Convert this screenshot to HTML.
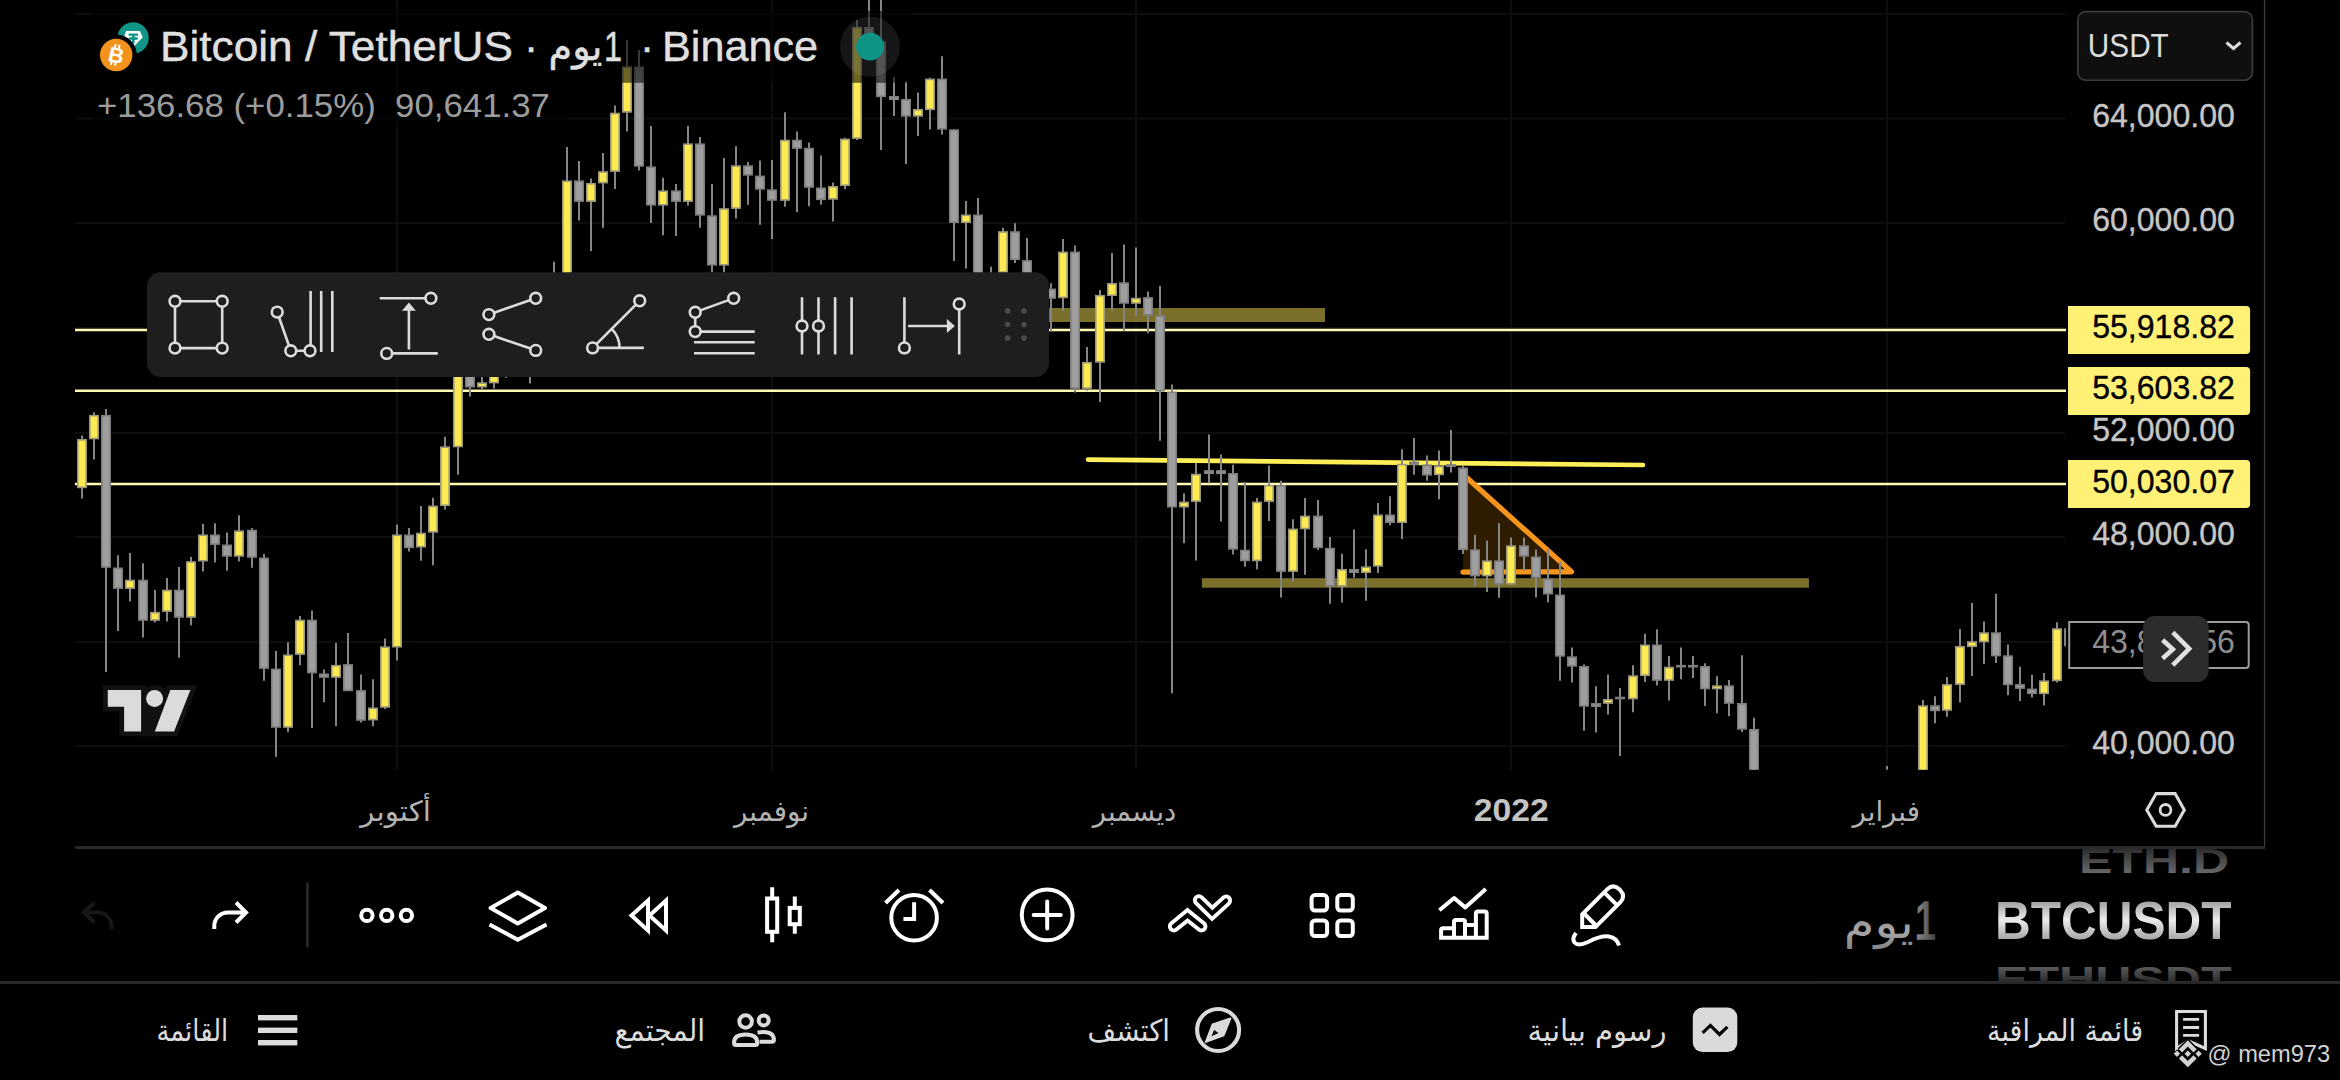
<!DOCTYPE html>
<html lang="ar">
<head>
<meta charset="utf-8">
<title>Bitcoin / TetherUS</title>
<style>
html,body{margin:0;padding:0;background:#000;}
body{width:2340px;height:1080px;overflow:hidden;position:relative;}
svg{position:absolute;left:0;top:0;display:block}
text{font-family:"Liberation Sans","DejaVu Sans",sans-serif;}
.ar{font-family:"DejaVu Sans","Liberation Sans",sans-serif;}
.y{fill:#fdea50;stroke:#9d987c}
.g{fill:#9e9e9e;stroke:#7e7e7e}
.grid line{stroke:#0d0e0e;stroke-width:2}
.ax{fill:#c6c6c6;font-size:32.5px;stroke:#c6c6c6;stroke-width:0.35}
.lab{fill:#000;font-size:32.5px;stroke:#000;stroke-width:0.35}
.ic{fill:none;stroke:#dcdcdc;stroke-width:2.6;stroke-linecap:butt}
.tb{fill:none;stroke:#fff;stroke-width:4;stroke-linejoin:miter}
.nav{fill:#dcdcdc;font-size:30px}
</style>
</head>
<body>
<svg width="2340" height="1080" viewBox="0 0 2340 1080">
<defs>
<clipPath id="plot"><rect x="75" y="0" width="1991" height="769.800"/></clipPath>
<linearGradient id="wheel" x1="0" y1="0" x2="0" y2="1">
<stop offset="0" stop-color="#000" stop-opacity="1"/><stop offset="0.38" stop-color="#000" stop-opacity="0.25"/><stop offset="0.52" stop-color="#000" stop-opacity="0"/><stop offset="0.66" stop-color="#000" stop-opacity="0.25"/><stop offset="1" stop-color="#000" stop-opacity="1"/>
</linearGradient>
<clipPath id="wheelclip"><rect x="1820" y="849" width="445" height="132"/></clipPath>
<linearGradient id="gTop" gradientUnits="userSpaceOnUse" x1="0" y1="834" x2="0" y2="874"><stop offset="0" stop-color="#2a2a2a"/><stop offset="1" stop-color="#6a6a6a"/></linearGradient>
<linearGradient id="gMid" gradientUnits="userSpaceOnUse" x1="0" y1="900" x2="0" y2="940"><stop offset="0" stop-color="#9a9a9a"/><stop offset="0.5" stop-color="#ececec"/><stop offset="1" stop-color="#a4a4a4"/></linearGradient>
<linearGradient id="gMid2" gradientUnits="userSpaceOnUse" x1="0" y1="905" x2="0" y2="955"><stop offset="0" stop-color="#6e6e6e"/><stop offset="0.5" stop-color="#a8a8a8"/><stop offset="1" stop-color="#7a7a7a"/></linearGradient>
<linearGradient id="gOne" gradientUnits="userSpaceOnUse" x1="1916" y1="0" x2="1937" y2="0"><stop offset="0" stop-color="#8a8a8a"/><stop offset="1" stop-color="#3c3c3c"/></linearGradient>
<linearGradient id="gBot" gradientUnits="userSpaceOnUse" x1="0" y1="952" x2="0" y2="985"><stop offset="0" stop-color="#5e5e5e"/><stop offset="1" stop-color="#1a1a1a"/></linearGradient>
</defs>
<rect width="2340" height="1080" fill="#000"/>
<!-- grid -->
<g class="grid">
<line x1="75" x2="2065.5" y1="14" y2="14"/><line x1="75" x2="2065.5" y1="118.500" y2="118.500"/><line x1="75" x2="2065.5" y1="223" y2="223"/><line x1="75" x2="2065.5" y1="328" y2="328"/><line x1="75" x2="2065.5" y1="433" y2="433"/><line x1="75" x2="2065.5" y1="537" y2="537"/><line x1="75" x2="2065.5" y1="642" y2="642"/><line x1="75" x2="2065.5" y1="746" y2="746"/>
<line x1="397" x2="397" y1="0" y2="769.8"/><line x1="772" x2="772" y1="0" y2="769.8"/><line x1="1136" x2="1136" y1="0" y2="769.8"/><line x1="1511" x2="1511" y1="0" y2="769.8"/><line x1="1887" x2="1887" y1="0" y2="769.8"/>
</g>
<g clip-path="url(#plot)">
<!-- drawings behind candles -->
<rect x="900" y="308" width="425" height="14" fill="#7a702b"/>
<rect x="1201.900" y="578.200" width="607" height="9.500" fill="#7a702c"/>
<line x1="1088" y1="459.6" x2="1643" y2="465" stroke="#ffee58" stroke-width="4.6" stroke-linecap="round"/>
<g stroke="#fffbb4" stroke-width="2.400"><line x1="75" x2="2066" y1="330" y2="330"/><line x1="75" x2="2066" y1="390.8" y2="390.8"/><line x1="75" x2="2066" y1="484" y2="484"/></g>
<path d="M1465.500 476.500L1571.500 571.800L1463 572.100" fill="#2e1c00" stroke="#f5951d" stroke-width="5.200" stroke-linejoin="round" stroke-linecap="round"/>
<g stroke="#858585" stroke-width="2"><line x1="82.0" x2="82.0" y1="435.6" y2="498.5"/><line x1="94.0" x2="94.0" y1="412.2" y2="459.6"/><line x1="106.0" x2="106.0" y1="408.9" y2="671.9"/><line x1="118.0" x2="118.0" y1="555.2" y2="631.1"/><line x1="130.0" x2="130.0" y1="553.0" y2="601.5"/><line x1="143.0" x2="143.0" y1="563.3" y2="637.4"/><line x1="155.0" x2="155.0" y1="590.0" y2="622.6"/><line x1="167.0" x2="167.0" y1="578.1" y2="621.5"/><line x1="179.0" x2="179.0" y1="567.0" y2="657.8"/><line x1="191.0" x2="191.0" y1="557.0" y2="625.2"/><line x1="203.0" x2="203.0" y1="523.7" y2="571.5"/><line x1="215.0" x2="215.0" y1="523.3" y2="562.6"/><line x1="227.0" x2="227.0" y1="532.6" y2="570.7"/><line x1="239.0" x2="239.0" y1="515.2" y2="561.5"/><line x1="252.0" x2="252.0" y1="528.1" y2="567.8"/><line x1="264.0" x2="264.0" y1="554.1" y2="680.7"/><line x1="276.0" x2="276.0" y1="651.1" y2="756.7"/><line x1="288.0" x2="288.0" y1="642.2" y2="731.9"/><line x1="300.0" x2="300.0" y1="615.9" y2="665.2"/><line x1="312.0" x2="312.0" y1="610.4" y2="728.1"/><line x1="324.0" x2="324.0" y1="669.6" y2="702.2"/><line x1="336.0" x2="336.0" y1="643.0" y2="726.3"/><line x1="348.0" x2="348.0" y1="633.0" y2="691.1"/><line x1="361.0" x2="361.0" y1="674.4" y2="722.6"/><line x1="373.0" x2="373.0" y1="679.3" y2="726.3"/><line x1="385.0" x2="385.0" y1="638.5" y2="708.9"/><line x1="397.0" x2="397.0" y1="524.4" y2="660.4"/><line x1="409.0" x2="409.0" y1="528.1" y2="551.5"/><line x1="421.0" x2="421.0" y1="505.9" y2="560.7"/><line x1="433.0" x2="433.0" y1="497.8" y2="565.2"/><line x1="445.0" x2="445.0" y1="436.7" y2="509.6"/><line x1="458.0" x2="458.0" y1="342.8" y2="474.8"/><line x1="470.0" x2="470.0" y1="344.6" y2="396.5"/><line x1="482.0" x2="482.0" y1="362.2" y2="389.6"/><line x1="494.0" x2="494.0" y1="325.2" y2="388.5"/><line x1="506.0" x2="506.0" y1="313.3" y2="378.1"/><line x1="518.0" x2="518.0" y1="279.8" y2="369.4"/><line x1="530.0" x2="530.0" y1="284.0" y2="383.4"/><line x1="542.0" x2="542.0" y1="281.4" y2="375.8"/><line x1="554.0" x2="554.0" y1="261.8" y2="306.5"/><line x1="567.0" x2="567.0" y1="147.0" y2="305.9"/><line x1="579.0" x2="579.0" y1="161.1" y2="220.4"/><line x1="591.0" x2="591.0" y1="178.5" y2="251.1"/><line x1="603.0" x2="603.0" y1="153.0" y2="227.8"/><line x1="615.0" x2="615.0" y1="105.6" y2="188.9"/><line x1="627.0" x2="627.0" y1="40.0" y2="131.5"/><line x1="639.0" x2="639.0" y1="50.0" y2="170.4"/><line x1="651.0" x2="651.0" y1="125.9" y2="223.0"/><line x1="663.0" x2="663.0" y1="177.8" y2="235.2"/><line x1="676.0" x2="676.0" y1="184.1" y2="235.9"/><line x1="688.0" x2="688.0" y1="125.9" y2="205.6"/><line x1="700.0" x2="700.0" y1="137.0" y2="227.8"/><line x1="712.0" x2="712.0" y1="184.1" y2="272.2"/><line x1="724.0" x2="724.0" y1="158.1" y2="272.2"/><line x1="736.0" x2="736.0" y1="146.3" y2="218.5"/><line x1="748.0" x2="748.0" y1="161.9" y2="204.8"/><line x1="760.0" x2="760.0" y1="160.4" y2="224.8"/><line x1="772.0" x2="772.0" y1="160.0" y2="238.9"/><line x1="785.0" x2="785.0" y1="112.2" y2="206.7"/><line x1="797.0" x2="797.0" y1="131.5" y2="212.2"/><line x1="809.0" x2="809.0" y1="142.6" y2="206.3"/><line x1="821.0" x2="821.0" y1="155.6" y2="204.8"/><line x1="833.0" x2="833.0" y1="182.6" y2="221.5"/><line x1="845.0" x2="845.0" y1="137.8" y2="188.9"/><line x1="857.0" x2="857.0" y1="20.0" y2="140.0"/><line x1="869.0" x2="869.0" y1="-3.7" y2="59.3"/><line x1="881.0" x2="881.0" y1="-11.9" y2="150.0"/><line x1="894.0" x2="894.0" y1="77.0" y2="115.9"/><line x1="906.0" x2="906.0" y1="81.5" y2="164.1"/><line x1="918.0" x2="918.0" y1="92.6" y2="135.9"/><line x1="930.0" x2="930.0" y1="77.8" y2="129.6"/><line x1="942.0" x2="942.0" y1="56.3" y2="134.4"/><line x1="954.0" x2="954.0" y1="129.6" y2="261.1"/><line x1="966.0" x2="966.0" y1="201.1" y2="268.5"/><line x1="978.0" x2="978.0" y1="198.1" y2="296.3"/><line x1="991.0" x2="991.0" y1="266.7" y2="296.3"/><line x1="1003.0" x2="1003.0" y1="227.8" y2="281.5"/><line x1="1015.0" x2="1015.0" y1="223.3" y2="263.0"/><line x1="1027.0" x2="1027.0" y1="238.1" y2="292.6"/><line x1="1039.0" x2="1039.0" y1="274.1" y2="296.3"/><line x1="1051.0" x2="1051.0" y1="283.3" y2="331.5"/><line x1="1063.0" x2="1063.0" y1="238.9" y2="311.1"/><line x1="1075.0" x2="1075.0" y1="245.6" y2="392.6"/><line x1="1087.0" x2="1087.0" y1="347.0" y2="390.7"/><line x1="1100.0" x2="1100.0" y1="290.0" y2="401.9"/><line x1="1112.0" x2="1112.0" y1="253.0" y2="310.4"/><line x1="1124.0" x2="1124.0" y1="244.4" y2="330.7"/><line x1="1136.0" x2="1136.0" y1="247.4" y2="315.9"/><line x1="1148.0" x2="1148.0" y1="291.5" y2="333.3"/><line x1="1160.0" x2="1160.0" y1="285.9" y2="440.7"/><line x1="1172.0" x2="1172.0" y1="384.4" y2="693.3"/><line x1="1184.0" x2="1184.0" y1="493.3" y2="543.3"/><line x1="1196.0" x2="1196.0" y1="463.0" y2="560.4"/><line x1="1209.0" x2="1209.0" y1="434.4" y2="483.3"/><line x1="1221.0" x2="1221.0" y1="454.4" y2="521.5"/><line x1="1233.0" x2="1233.0" y1="464.8" y2="554.4"/><line x1="1245.0" x2="1245.0" y1="482.2" y2="566.7"/><line x1="1257.0" x2="1257.0" y1="498.1" y2="569.3"/><line x1="1269.0" x2="1269.0" y1="465.6" y2="521.1"/><line x1="1281.0" x2="1281.0" y1="480.7" y2="597.4"/><line x1="1293.0" x2="1293.0" y1="519.3" y2="581.5"/><line x1="1305.0" x2="1305.0" y1="498.1" y2="574.8"/><line x1="1318.0" x2="1318.0" y1="500.0" y2="550.0"/><line x1="1330.0" x2="1330.0" y1="537.0" y2="603.7"/><line x1="1342.0" x2="1342.0" y1="553.7" y2="602.6"/><line x1="1354.0" x2="1354.0" y1="529.6" y2="577.8"/><line x1="1366.0" x2="1366.0" y1="549.3" y2="600.7"/><line x1="1378.0" x2="1378.0" y1="503.0" y2="573.0"/><line x1="1390.0" x2="1390.0" y1="496.3" y2="525.2"/><line x1="1402.0" x2="1402.0" y1="449.3" y2="538.9"/><line x1="1414.0" x2="1414.0" y1="438.1" y2="474.8"/><line x1="1427.0" x2="1427.0" y1="455.6" y2="480.7"/><line x1="1439.0" x2="1439.0" y1="450.4" y2="499.3"/><line x1="1451.0" x2="1451.0" y1="430.0" y2="472.6"/><line x1="1463.0" x2="1463.0" y1="465.9" y2="554.1"/><line x1="1475.0" x2="1475.0" y1="534.8" y2="586.3"/><line x1="1487.0" x2="1487.0" y1="540.4" y2="591.9"/><line x1="1499.0" x2="1499.0" y1="523.3" y2="597.8"/><line x1="1511.0" x2="1511.0" y1="537.4" y2="584.4"/><line x1="1524.0" x2="1524.0" y1="537.4" y2="570.7"/><line x1="1536.0" x2="1536.0" y1="549.6" y2="597.4"/><line x1="1548.0" x2="1548.0" y1="549.3" y2="602.2"/><line x1="1560.0" x2="1560.0" y1="561.5" y2="680.7"/><line x1="1572.0" x2="1572.0" y1="647.4" y2="682.6"/><line x1="1584.0" x2="1584.0" y1="664.4" y2="730.7"/><line x1="1596.0" x2="1596.0" y1="686.3" y2="732.6"/><line x1="1608.0" x2="1608.0" y1="674.4" y2="714.4"/><line x1="1620.0" x2="1620.0" y1="688.1" y2="755.9"/><line x1="1633.0" x2="1633.0" y1="665.2" y2="712.2"/><line x1="1645.0" x2="1645.0" y1="633.7" y2="681.9"/><line x1="1657.0" x2="1657.0" y1="629.3" y2="685.6"/><line x1="1669.0" x2="1669.0" y1="655.9" y2="700.4"/><line x1="1681.0" x2="1681.0" y1="647.4" y2="679.3"/><line x1="1693.0" x2="1693.0" y1="655.9" y2="678.1"/><line x1="1705.0" x2="1705.0" y1="663.3" y2="705.9"/><line x1="1717.0" x2="1717.0" y1="676.3" y2="713.3"/><line x1="1729.0" x2="1729.0" y1="680.0" y2="716.3"/><line x1="1742.0" x2="1742.0" y1="655.2" y2="731.9"/><line x1="1754.0" x2="1754.0" y1="717.8" y2="898.5"/><line x1="1887.0" x2="1887.0" y1="765.9" y2="844.4"/><line x1="1923.0" x2="1923.0" y1="700.0" y2="888.9"/><line x1="1935.0" x2="1935.0" y1="696.3" y2="723.3"/><line x1="1947.0" x2="1947.0" y1="677.0" y2="716.7"/><line x1="1960.0" x2="1960.0" y1="628.9" y2="702.6"/><line x1="1972.0" x2="1972.0" y1="603.0" y2="675.9"/><line x1="1984.0" x2="1984.0" y1="621.5" y2="664.1"/><line x1="1996.0" x2="1996.0" y1="593.7" y2="663.0"/><line x1="2008.0" x2="2008.0" y1="644.4" y2="695.2"/><line x1="2020.0" x2="2020.0" y1="666.7" y2="701.1"/><line x1="2032.0" x2="2032.0" y1="674.8" y2="697.4"/><line x1="2044.0" x2="2044.0" y1="673.0" y2="705.6"/><line x1="2057.0" x2="2057.0" y1="622.2" y2="682.6"/><line x1="2069.0" x2="2069.0" y1="626.0" y2="650.0"/></g><g stroke-width="1.6"><rect class="y" x="77.8" y="439.8" width="8.4" height="47.6"/><rect class="y" x="89.8" y="415.7" width="8.4" height="22.8"/><rect class="g" x="101.8" y="415.7" width="8.4" height="151.3"/><rect class="g" x="113.8" y="568.3" width="8.4" height="19.8"/><rect class="y" x="125.8" y="580.5" width="8.4" height="7.6"/><rect class="g" x="138.8" y="580.5" width="8.4" height="39.5"/><rect class="y" x="150.8" y="612.7" width="8.4" height="7.3"/><rect class="y" x="162.8" y="590.5" width="8.4" height="20.6"/><rect class="g" x="174.8" y="590.5" width="8.4" height="26.5"/><rect class="y" x="186.8" y="562.0" width="8.4" height="55.0"/><rect class="y" x="198.8" y="535.3" width="8.4" height="25.4"/><rect class="g" x="210.8" y="535.3" width="8.4" height="8.8"/><rect class="g" x="222.8" y="545.3" width="8.4" height="10.6"/><rect class="y" x="234.8" y="531.2" width="8.4" height="24.7"/><rect class="g" x="247.8" y="530.5" width="8.4" height="26.5"/><rect class="g" x="259.8" y="558.3" width="8.4" height="109.8"/><rect class="g" x="271.8" y="669.4" width="8.4" height="57.6"/><rect class="y" x="283.8" y="655.3" width="8.4" height="71.7"/><rect class="y" x="295.8" y="620.5" width="8.4" height="33.6"/><rect class="g" x="307.8" y="620.5" width="8.4" height="52.1"/><rect class="g" x="319.8" y="674.2" width="8.4" height="2.8"/><rect class="y" x="331.8" y="665.7" width="8.4" height="11.3"/><rect class="g" x="343.8" y="664.9" width="8.4" height="25.5"/><rect class="g" x="356.8" y="690.9" width="8.4" height="29.1"/><rect class="y" x="368.8" y="708.3" width="8.4" height="11.3"/><rect class="y" x="380.8" y="647.2" width="8.4" height="59.8"/><rect class="y" x="392.8" y="535.3" width="8.4" height="111.4"/><rect class="g" x="404.8" y="535.3" width="8.4" height="12.1"/><rect class="y" x="416.8" y="533.5" width="8.4" height="13.2"/><rect class="y" x="428.8" y="506.4" width="8.4" height="25.5"/><rect class="y" x="440.8" y="447.2" width="8.4" height="58.0"/><rect class="y" x="453.8" y="346.1" width="8.4" height="100.4"/><rect class="g" x="465.8" y="346.1" width="8.4" height="40.6"/><rect class="y" x="477.8" y="383.1" width="8.4" height="3.6"/><rect class="y" x="489.8" y="351.6" width="8.4" height="31.0"/><rect class="g" x="501.8" y="355.9" width="8.4" height="7.1"/><rect class="y" x="513.8" y="290.0" width="8.4" height="73.0"/><rect class="g" x="525.8" y="290.0" width="8.4" height="38.2"/><rect class="y" x="537.8" y="292.6" width="8.4" height="35.6"/><rect class="g" x="549.8" y="292.6" width="8.4" height="0.8"/><rect class="y" x="562.8" y="181.2" width="8.4" height="111.4"/><rect class="g" x="574.8" y="181.2" width="8.4" height="19.9"/><rect class="y" x="586.8" y="183.8" width="8.4" height="17.3"/><rect class="y" x="598.8" y="172.0" width="8.4" height="10.6"/><rect class="y" x="610.8" y="113.5" width="8.4" height="57.6"/><rect class="y" x="622.8" y="67.2" width="8.4" height="44.7"/><rect class="g" x="634.8" y="67.2" width="8.4" height="98.7"/><rect class="g" x="646.8" y="167.2" width="8.4" height="37.6"/><rect class="y" x="658.8" y="191.2" width="8.4" height="13.6"/><rect class="g" x="671.8" y="191.2" width="8.4" height="9.9"/><rect class="y" x="683.8" y="144.2" width="8.4" height="56.9"/><rect class="g" x="695.8" y="144.2" width="8.4" height="70.6"/><rect class="g" x="707.8" y="216.1" width="8.4" height="48.7"/><rect class="y" x="719.8" y="209.0" width="8.4" height="55.8"/><rect class="y" x="731.8" y="166.1" width="8.4" height="42.0"/><rect class="g" x="743.8" y="166.1" width="8.4" height="8.7"/><rect class="g" x="755.8" y="176.4" width="8.4" height="12.5"/><rect class="g" x="767.8" y="190.1" width="8.4" height="9.9"/><rect class="y" x="780.8" y="140.5" width="8.4" height="59.5"/><rect class="g" x="792.8" y="140.5" width="8.4" height="7.6"/><rect class="g" x="804.8" y="148.6" width="8.4" height="38.4"/><rect class="g" x="816.8" y="188.3" width="8.4" height="11.0"/><rect class="y" x="828.8" y="186.8" width="8.4" height="12.1"/><rect class="y" x="840.8" y="139.4" width="8.4" height="45.8"/><rect class="y" x="852.8" y="27.7" width="8.4" height="110.4"/><rect class="g" x="864.8" y="27.7" width="8.4" height="13.8"/><rect class="g" x="876.8" y="42.0" width="8.4" height="54.3"/><rect class="g" x="889.8" y="96.8" width="8.4" height="2.5"/><rect class="g" x="901.8" y="99.8" width="8.4" height="16.1"/><rect class="y" x="913.8" y="109.8" width="8.4" height="6.1"/><rect class="y" x="925.8" y="79.4" width="8.4" height="29.9"/><rect class="g" x="937.8" y="79.4" width="8.4" height="49.5"/><rect class="g" x="949.8" y="130.1" width="8.4" height="92.1"/><rect class="y" x="961.8" y="215.3" width="8.4" height="6.9"/><rect class="g" x="973.8" y="215.3" width="8.4" height="66.2"/><rect class="y" x="986.8" y="275.3" width="8.4" height="6.2"/><rect class="y" x="998.8" y="232.0" width="8.4" height="40.2"/><rect class="g" x="1010.8" y="232.0" width="8.4" height="27.3"/><rect class="g" x="1022.8" y="260.9" width="8.4" height="20.6"/><rect class="g" x="1034.8" y="282.0" width="8.4" height="6.9"/><rect class="g" x="1046.8" y="289.4" width="8.4" height="8.7"/><rect class="y" x="1058.8" y="252.4" width="8.4" height="45.0"/><rect class="g" x="1070.8" y="252.4" width="8.4" height="135.7"/><rect class="y" x="1082.8" y="362.7" width="8.4" height="25.4"/><rect class="y" x="1095.8" y="295.7" width="8.4" height="66.2"/><rect class="y" x="1107.8" y="283.8" width="8.4" height="11.4"/><rect class="g" x="1119.8" y="283.1" width="8.4" height="19.9"/><rect class="y" x="1131.8" y="298.6" width="8.4" height="4.4"/><rect class="g" x="1143.8" y="297.9" width="8.4" height="16.9"/><rect class="g" x="1155.8" y="316.1" width="8.4" height="74.6"/><rect class="g" x="1167.8" y="392.4" width="8.4" height="114.3"/><rect class="y" x="1179.8" y="502.4" width="8.4" height="4.3"/><rect class="y" x="1191.8" y="474.6" width="8.4" height="26.5"/><rect class="g" x="1204.8" y="470.9" width="8.4" height="2.4"/><rect class="g" x="1216.8" y="470.9" width="8.4" height="2.4"/><rect class="g" x="1228.8" y="473.8" width="8.4" height="75.1"/><rect class="g" x="1240.8" y="550.5" width="8.4" height="9.9"/><rect class="y" x="1252.8" y="502.4" width="8.4" height="58.0"/><rect class="y" x="1264.8" y="485.7" width="8.4" height="15.4"/><rect class="g" x="1276.8" y="485.7" width="8.4" height="85.4"/><rect class="y" x="1288.8" y="529.4" width="8.4" height="41.7"/><rect class="y" x="1300.8" y="516.4" width="8.4" height="12.1"/><rect class="g" x="1313.8" y="516.4" width="8.4" height="31.0"/><rect class="g" x="1325.8" y="548.6" width="8.4" height="37.3"/><rect class="y" x="1337.8" y="569.8" width="8.4" height="16.1"/><rect class="g" x="1349.8" y="569.8" width="8.4" height="2.4"/><rect class="y" x="1361.8" y="567.2" width="8.4" height="5.0"/><rect class="y" x="1373.8" y="515.3" width="8.4" height="50.6"/><rect class="g" x="1385.8" y="515.3" width="8.4" height="6.9"/><rect class="y" x="1397.8" y="464.6" width="8.4" height="57.6"/><rect class="g" x="1409.8" y="462.4" width="8.4" height="1.7"/><rect class="g" x="1422.8" y="465.3" width="8.4" height="9.5"/><rect class="y" x="1434.8" y="466.4" width="8.4" height="8.0"/><rect class="g" x="1446.8" y="464.9" width="8.4" height="1.4"/><rect class="g" x="1458.8" y="468.3" width="8.4" height="81.0"/><rect class="g" x="1470.8" y="550.1" width="8.4" height="25.5"/><rect class="y" x="1482.8" y="561.2" width="8.4" height="14.4"/><rect class="g" x="1494.8" y="561.2" width="8.4" height="22.5"/><rect class="y" x="1506.8" y="546.1" width="8.4" height="37.6"/><rect class="g" x="1519.8" y="546.1" width="8.4" height="9.8"/><rect class="g" x="1531.8" y="557.2" width="8.4" height="20.2"/><rect class="g" x="1543.8" y="579.4" width="8.4" height="14.3"/><rect class="g" x="1555.8" y="595.3" width="8.4" height="60.6"/><rect class="g" x="1567.8" y="657.2" width="8.4" height="8.7"/><rect class="g" x="1579.8" y="666.8" width="8.4" height="39.1"/><rect class="g" x="1591.8" y="703.8" width="8.4" height="2.5"/><rect class="y" x="1603.8" y="699.8" width="8.4" height="3.2"/><rect class="g" x="1615.8" y="697.5" width="8.4" height="1.0"/><rect class="y" x="1628.8" y="676.1" width="8.4" height="22.4"/><rect class="y" x="1640.8" y="645.3" width="8.4" height="29.9"/><rect class="g" x="1652.8" y="645.3" width="8.4" height="34.7"/><rect class="y" x="1664.8" y="667.5" width="8.4" height="12.5"/><rect class="g" x="1676.8" y="665.7" width="8.4" height="1.0"/><rect class="g" x="1688.8" y="665.7" width="8.4" height="1.0"/><rect class="g" x="1700.8" y="666.8" width="8.4" height="21.7"/><rect class="y" x="1712.8" y="686.1" width="8.4" height="2.4"/><rect class="g" x="1724.8" y="686.1" width="8.4" height="16.9"/><rect class="g" x="1737.8" y="703.8" width="8.4" height="25.1"/><rect class="g" x="1749.8" y="729.8" width="8.4" height="131.7"/><rect class="g" x="1882.8" y="770.9" width="8.4" height="36.5"/><rect class="y" x="1918.8" y="706.1" width="8.4" height="175.4"/><rect class="g" x="1930.8" y="706.1" width="8.4" height="4.3"/><rect class="y" x="1942.8" y="684.9" width="8.4" height="25.1"/><rect class="y" x="1955.8" y="646.8" width="8.4" height="37.3"/><rect class="y" x="1967.8" y="642.0" width="8.4" height="4.3"/><rect class="y" x="1979.8" y="633.1" width="8.4" height="8.4"/><rect class="g" x="1991.8" y="633.1" width="8.4" height="22.5"/><rect class="g" x="2003.8" y="656.1" width="8.4" height="28.3"/><rect class="g" x="2015.8" y="684.9" width="8.4" height="3.2"/><rect class="g" x="2027.8" y="689.4" width="8.4" height="3.9"/><rect class="y" x="2039.8" y="681.2" width="8.4" height="12.1"/><rect class="y" x="2052.8" y="629.0" width="8.4" height="51.4"/><rect class="g" x="2064.8" y="629.0" width="8.4" height="16.5"/></g>
</g>
<!-- legend overlays -->
<rect x="92" y="11" width="819.700" height="71.800" fill="#000" opacity="0.57"/><rect x="92" y="82.800" width="475.500" height="46" fill="#000" opacity="0.57"/>
<!-- TV logo -->
<g fill="#111" stroke="#111" stroke-width="9.600" stroke-linejoin="miter">
<path d="M107.800 690H141.100V731.500H124.100V706.700H107.800Z"/><circle cx="154.600" cy="698.500" r="8.500"/><path d="M170.400 690H190.400L174.100 731.500H154.800Z"/><path d="M141 698H165L152 731.500H141Z"/>
</g>
<g fill="#dbdbdb">
<path d="M107.800 690H141.100V731.500H124.100V706.700H107.800Z"/><circle cx="154.600" cy="698.500" r="8.500"/><path d="M170.400 690H190.400L174.100 731.500H154.800Z"/>
</g>
<!-- header -->
<circle cx="133.100" cy="37.900" r="15.600" fill="#0f9688"/>
<path d="M126 31.100H139.900L142.800 37.200L133.400 47L124 37.200Z" fill="#fff"/>
<path d="M128.600 33.500H138V35.700H134.600V37.100C136.800 37.300 138.400 37.800 138.400 38.500S136.800 39.700 134.600 39.900V43.500H132V39.900C129.800 39.700 128.200 39.200 128.200 38.500S129.800 37.300 132 37.100V35.700H128.600Z" fill="#0f9688"/>
<circle cx="116.200" cy="55" r="20.600" fill="#000"/>
<circle cx="116.200" cy="55" r="16.200" fill="#f3931c"/>
<g transform="rotate(13 116.200 55)" fill="#fff">
<text x="116.400" y="62.600" font-size="21.500" font-weight="bold" text-anchor="middle">B</text>
<rect x="112.300" y="44.300" width="2" height="4"/><rect x="116.300" y="44.300" width="2" height="4"/><rect x="112.300" y="61.700" width="2" height="4"/><rect x="116.300" y="61.700" width="2" height="4"/>
</g>
<g font-size="42.500px" fill="#e0e0e0" stroke="#e0e0e0" stroke-width="0.400">
<text x="160" y="60.5" textLength="353" lengthAdjust="spacingAndGlyphs">Bitcoin / TetherUS</text>
<text x="524" y="60.5">·</text>
<text class="ar" x="548.500" y="59.500" textLength="54" lengthAdjust="spacingAndGlyphs" font-size="40px">يوم</text>
<text x="604" y="60.5" textLength="18" lengthAdjust="spacingAndGlyphs">1</text>
<text x="640" y="60.5">·</text>
<text x="662" y="60.5" textLength="156" lengthAdjust="spacingAndGlyphs">Binance</text>
</g>
<circle cx="870" cy="46.700" r="30" fill="#fff" opacity="0.085"/>
<circle cx="870" cy="46.700" r="13.900" fill="#0e9384"/>
<text x="97" y="117" font-size="32.500px" fill="#9c9c9c" textLength="453" lengthAdjust="spacingAndGlyphs" xml:space="preserve">+136.68 (+0.15%)  90,641.37</text>
<!-- drawing toolbar -->
<rect x="147" y="272.2" width="902" height="104.8" rx="14" fill="#1e1e1e"/>
<g class="ic">
<!-- 1 rect -->
<path d="M180.500 301.300H216.700M180.500 348.100H216.700M175 306.800V342.600M222.200 306.800V342.600"/>
<circle cx="175" cy="301.300" r="5.400"/><circle cx="222.200" cy="301.300" r="5.400"/><circle cx="175" cy="348.100" r="5.400"/><circle cx="222.200" cy="348.100" r="5.400"/>
<!-- 2 -->
<circle cx="277.200" cy="312.100" r="5.400"/><circle cx="290.800" cy="350.800" r="5.400"/><circle cx="310" cy="350.800" r="5.400"/>
<path d="M279 317.200L289 345.700M296.200 350.800H304.600M310.600 291V345.400M321.200 291V352M332.300 291V352"/>
<!-- 3 -->
<circle cx="430.900" cy="298.300" r="5.400"/><circle cx="386.700" cy="353.400" r="5.400"/>
<path d="M379.800 298.300H425.500M392.100 353.400H437.800M408.900 349.400V309"/>
<path d="M408.900 302.600L415.800 310.700H402z" fill="#dcdcdc" stroke="none"/>
<!-- 4 -->
<circle cx="535.700" cy="298.300" r="5.400"/><circle cx="488.900" cy="314.600" r="5.400"/><circle cx="488.900" cy="334.300" r="5.400"/><circle cx="535.700" cy="350.400" r="5.400"/>
<path d="M494 312.800L530.600 300.100M494 336.100L530.600 348.600"/>
<!-- 5 angle -->
<circle cx="592.600" cy="347.900" r="5.400"/><circle cx="639.700" cy="300.800" r="5.400"/>
<path d="M596.400 344.100L635.900 304.600M598 347.900H643.900M611.700 328.800A27 27 0 0 1 619.600 347.900"/>
<!-- 6 -->
<circle cx="733.700" cy="298.300" r="5.400"/><circle cx="695.200" cy="312.300" r="5.400"/><circle cx="695.200" cy="331.600" r="5.400"/>
<path d="M700.300 310.400L728.600 300.100M695.200 317.700V326.200M700.600 331.600H754.700M694 342.300H754.700M694 353.200H754.700"/>
<!-- 7 -->
<circle cx="802" cy="326" r="5.400"/><circle cx="818.500" cy="326" r="5.400"/>
<path d="M802 297.300V320.600M802 331.400V354.600M818.500 297.300V320.600M818.500 331.400V354.600M835.100 297.300V354.600M851.600 297.300V354.600"/>
<!-- 8 -->
<circle cx="904.400" cy="347.900" r="5.400"/><circle cx="959.200" cy="304" r="5.400"/>
<path d="M904.400 297.300V342.500M959.200 309.400V354.600M908.100 326H947.500"/>
<path d="M954.800 326L946.900 319.100V332.900z" fill="#dcdcdc" stroke="none"/>
</g>
<g fill="#4a4a4a"><circle cx="1007.600" cy="310.900" r="2.800"/><circle cx="1024" cy="310.900" r="2.800"/><circle cx="1007.600" cy="324.500" r="2.800"/><circle cx="1024" cy="324.500" r="2.800"/><circle cx="1007.600" cy="338.100" r="2.800"/><circle cx="1024" cy="338.100" r="2.800"/></g>

<!-- price axis -->
<rect x="2077.8" y="11.6" width="174.6" height="68.6" rx="8" fill="#0f0f0f" stroke="#3c3c3c" stroke-width="1.6"/>
<text x="2087.8" y="57.3" font-size="33px" fill="#dcdcdc" textLength="81" lengthAdjust="spacingAndGlyphs">USDT</text>
<path d="M2226.5 42.5l7 6 7-6" fill="none" stroke="#dcdcdc" stroke-width="3"/>
<g class="ax">
<text x="2092.2" y="126.7" textLength="142.7" lengthAdjust="spacingAndGlyphs">64,000.00</text>
<text x="2092.2" y="231.3" textLength="142.7" lengthAdjust="spacingAndGlyphs">60,000.00</text>
<text x="2092.2" y="440.5" textLength="142.7" lengthAdjust="spacingAndGlyphs">52,000.00</text>
<text x="2092.2" y="545.1" textLength="142.7" lengthAdjust="spacingAndGlyphs">48,000.00</text>
<text x="2092.2" y="754.4" textLength="142.7" lengthAdjust="spacingAndGlyphs">40,000.00</text>
</g>
<g fill="#fff176"><path d="M2068 306.1h178.100q4 0 4 4v39.900q0 4 -4 4h-178.100z"/><path d="M2068 367.0h178.100q4 0 4 4v39.900q0 4 -4 4h-178.100z"/><path d="M2068 460.1h178.100q4 0 4 4v39.900q0 4 -4 4h-178.100z"/></g>
<g class="lab">
<text x="2092.2" y="338" textLength="142.7" lengthAdjust="spacingAndGlyphs">55,918.82</text>
<text x="2092.2" y="399" textLength="142.7" lengthAdjust="spacingAndGlyphs">53,603.82</text>
<text x="2092.2" y="492.5" textLength="142.7" lengthAdjust="spacingAndGlyphs">50,030.07</text>
</g>
<path d="M2069.200 622H2245.700Q2248.700 622 2248.700 625V665Q2248.700 668 2245.700 668H2069.200Z" fill="#000" stroke="#9c9c9c" stroke-width="2"/>
<text x="2092.200" y="652.800" font-size="33px" fill="#8e8e8e" textLength="142.700" lengthAdjust="spacingAndGlyphs">43,873.56</text>
<rect x="2143.100" y="615.900" width="65.600" height="66.100" rx="11.500" fill="#2c2c2c"/>
<path d="M2162.600 640L2172.800 649.200L2162.600 658.500M2172.800 632.300L2189.200 648.700L2172.800 665.100" fill="none" stroke="#e0e0e0" stroke-width="4.600"/>
<!-- time axis -->
<g class="ar" font-size="28px" fill="#b4b4b4" text-anchor="middle">
<text class="ar" x="395.600" y="821" textLength="70.500" lengthAdjust="spacingAndGlyphs">أكتوبر</text>
<text class="ar" x="771.500" y="821" textLength="75" lengthAdjust="spacingAndGlyphs">نوفمبر</text>
<text class="ar" x="1134.500" y="821" textLength="83.400" lengthAdjust="spacingAndGlyphs">ديسمبر</text>
<text class="ar" x="1886.200" y="821" textLength="67.500" lengthAdjust="spacingAndGlyphs">فبراير</text>
</g>
<text x="1473.700" y="821" font-size="32px" font-weight="bold" fill="#c4c4c4" textLength="75" lengthAdjust="spacingAndGlyphs">2022</text>
<path d="M2146.800 809.900L2156.200 793.600H2175.100L2184.300 809.900L2175.100 826.200H2156.200Z" fill="none" stroke="#dcdcdc" stroke-width="3.100" stroke-linejoin="miter"/><circle cx="2165.500" cy="809.900" r="5.400" fill="none" stroke="#dcdcdc" stroke-width="2.800"/>
<!-- pane borders -->
<rect x="75" y="846.100" width="2190" height="2.900" fill="#2a2a2a"/>
<rect x="2263.900" y="0" width="1.300" height="848" fill="#3a3a3a"/>
<rect x="0" y="981" width="2340" height="2.800" fill="#2a2a2a"/>
<!-- undo (disabled) -->
<path d="M111.500 929v-3a13.500 13.500 0 0 0 -13.500 -13.500h-14M94.500 902.500l-10.500 10 10.500 10" fill="none" stroke="#171717" stroke-width="4"/>
<!-- redo -->
<path d="M214.300 929v-3a13.500 13.500 0 0 1 13.500 -13.500h17M236 902.500l10 10-10 10" class="tb"/>
<rect x="306.100" y="882.400" width="2.600" height="65" fill="#2a2a2a"/>
<g class="tb">
<circle cx="366.900" cy="915.400" r="5.700"/><circle cx="386.700" cy="915.400" r="5.700"/><circle cx="406.400" cy="915.400" r="5.700"/>
<!-- layers -->
<path d="M517.800 892.500L545 908L517.800 923.500L490.600 908Z" stroke-linejoin="round"/><path d="M489.500 924.500L517.800 939.700L546.500 924.500"/>
<!-- rewind -->
<path d="M648 900.500V930.500L631.500 915.500ZM666 900.500V930.500L649.500 915.500Z" stroke-width="4"/>
<!-- candles -->
<rect x="767.100" y="898.500" width="10.100" height="33.300"/><path d="M772.200 887.200V898.500M772.200 931.800V942.200"/>
<rect x="789.700" y="907.900" width="10.100" height="16.300"/><path d="M794.800 896.500V907.900M794.800 924.200V933.800"/>
<!-- alarm -->
<circle cx="914.100" cy="917.700" r="22.800"/><path d="M914.100 902.200V919.100H903.400M885.500 903L899 890M929.500 890L943 903"/>
<!-- plus -->
<circle cx="1047.200" cy="914.900" r="25.400"/><path d="M1033.700 914.900H1060.700M1047.200 901.400V928.400" stroke-linecap="round"/>
<!-- grid -->
<rect x="1311.600" y="895.100" width="15.500" height="15.500" rx="3.500"/><rect x="1337.300" y="895.100" width="15.500" height="15.500" rx="3.500"/><rect x="1311.600" y="920.500" width="15.500" height="15.500" rx="3.500"/><rect x="1337.300" y="920.500" width="15.500" height="15.500" rx="3.500"/>
<!-- chart -->
<path d="M1439.400 910.300L1454.100 898L1465.200 907.400L1485.800 889" stroke-linejoin="round"/>
<path d="M1441.100 937.700V930.200Q1441.100 928.200 1443.100 928.200H1454V921.900Q1454 919.900 1456 919.900H1463Q1465 919.900 1465 921.900V924.900H1475.900V913.400Q1475.900 911.400 1477.900 911.400H1484.700Q1486.700 911.400 1486.700 913.400V937.700ZM1454 928.200V937.700M1465 924.900V937.700M1475.900 924.900V937.700"/>
</g>
<!-- indicators zigzag outline -->
<g fill="none" stroke-linecap="round" stroke-linejoin="miter">
<path d="M1173.900 926.400L1187.500 915.300L1201.400 926.400M1198.900 900.300L1212.200 913.300L1226.100 900.600" stroke="#fff" stroke-width="12"/>
<path d="M1173.900 926.400L1187.500 915.300L1201.400 926.400M1198.900 900.300L1212.200 913.300L1226.100 900.600" stroke="#000" stroke-width="4.200"/>
</g>
<!-- pencil -->
<g class="tb" stroke-linejoin="round">
<path d="M1582.200 927.100V914.300L1607.300 889.200Q1613.400 883.600 1619.300 889.300L1620.400 890.400Q1626 896.300 1620.200 902.300L1595.400 927.100Z"/>
<path d="M1604.200 892.300L1617.200 905.300M1583.500 913L1596.500 926"/>
<path d="M1576.100 933Q1571.500 938.500 1574.500 942.500Q1578 946.500 1588 942Q1601 935.500 1609 936.500Q1617 938 1619 945.500"/>
</g>
<!-- symbol wheel -->
<g font-weight="bold" font-size="53px" clip-path="url(#wheelclip)">
<text x="2079" y="873.500" fill="url(#gTop)" textLength="150" lengthAdjust="spacingAndGlyphs" transform="translate(0 873.500) scale(1 0.650) translate(0 -873.500)">ETH.D</text>
<text x="1995" y="939.200" fill="url(#gMid)" textLength="236.600" lengthAdjust="spacingAndGlyphs">BTCUSDT</text>
<text x="1995" y="991" fill="url(#gBot)" textLength="236.600" lengthAdjust="spacingAndGlyphs" transform="translate(0 991) scale(1 0.650) translate(0 -991)">ETHUSDT</text>
</g>
<text class="ar" x="1843.800" y="937.500" font-size="46px" fill="url(#gMid2)" textLength="70" lengthAdjust="spacingAndGlyphs">يوم</text>
<text x="1914.500" y="939.200" font-size="53px" fill="url(#gOne)" stroke="url(#gOne)" stroke-width="1.600" textLength="22" lengthAdjust="spacingAndGlyphs">1</text>
<rect x="2265" y="849" width="75" height="132" fill="#000"/>
<rect x="1820" y="983.800" width="520" height="25" fill="#000"/>
<rect x="0" y="981" width="2340" height="2.800" fill="#2a2a2a"/>
<rect x="75" y="846.100" width="2190" height="2.900" fill="#2a2a2a"/>

<g class="nav">
<text class="ar" x="156.400" y="1040.500" textLength="71.800" lengthAdjust="spacingAndGlyphs">القائمة</text>
<text class="ar" x="614.500" y="1040.500" textLength="90.600" lengthAdjust="spacingAndGlyphs">المجتمع</text>
<text class="ar" x="1087.500" y="1040.500" textLength="82.500" lengthAdjust="spacingAndGlyphs">اكتشف</text>
<text class="ar" x="1527.500" y="1040.500" textLength="139" lengthAdjust="spacingAndGlyphs">رسوم بيانية</text>
<text class="ar" x="1987" y="1040.500" textLength="156.200" lengthAdjust="spacingAndGlyphs">قائمة المراقبة</text>
</g>
<!-- hamburger -->
<g fill="#dcdcdc"><rect x="258" y="1015" width="39.300" height="5.400"/><rect x="258" y="1027.600" width="39.300" height="5.400"/><rect x="258" y="1040" width="39.300" height="5.400"/></g>
<!-- people -->
<g fill="none" stroke="#dcdcdc" stroke-width="4" stroke-linejoin="round">
<circle cx="763.700" cy="1020.400" r="5"/>
<path d="M757.500 1032.400Q760.500 1032 763.700 1032Q773.900 1032 773.900 1040Q773.900 1041.700 772 1041.700H759.500"/>
<circle cx="745.600" cy="1021.500" r="6.300"/>
<path d="M736 1045Q734 1045 734 1043Q734 1034.600 745.600 1034.600Q757.300 1034.600 757.300 1043Q757.300 1045 755.300 1045Z" fill="#000"/>
</g>
<!-- compass -->
<circle cx="1218.100" cy="1030" r="21" fill="none" stroke="#dadada" stroke-width="4.100"/>
<path d="M1230.400 1018.500L1223.700 1035.200L1205.900 1041.900L1212.600 1024.400Z" fill="#dadada" stroke="#dadada" stroke-width="2" stroke-linejoin="round"/>
<path d="M1214.100 1030L1218.500 1033L1211.500 1036.300Z" fill="#000"/>
<!-- charts -->
<rect x="1692.800" y="1007.600" width="44.500" height="44.500" rx="9.600" fill="#dadada"/>
<path d="M1702.600 1032.800L1710.400 1025.400L1719.500 1034.400L1727.400 1026.800" fill="none" stroke="#000" stroke-width="3.200"/>
<!-- watchlist -->
<path d="M2176.600 1048.500V1011.500h28.800v37l-17.300-7.700z" fill="none" stroke="#dcdcdc" stroke-width="3.100"/>
<path d="M2183.100 1019.400h16M2183.100 1027.500h16M2183.100 1035.400h16" stroke="#dcdcdc" stroke-width="2.900"/>
<!-- watermark -->
<g transform="translate(2187.800 1053.800)">
<g fill="none" stroke="#000" stroke-width="7.500"><path d="M-7.300 -3L0 -10.300L7.300 -3"/><path d="M-7.300 3L0 10.300L7.300 3"/></g>
<g fill="#000"><path d="M-15.200 0L-10.800 -4.400L-6.400 0L-10.800 4.400Z"/><path d="M15.200 0L10.800 -4.400L6.400 0L10.800 4.400Z"/><path d="M0 -4.600L4.600 0L0 4.600L-4.600 0Z"/></g>
<g fill="none" stroke="#d2d2d2" stroke-width="4.500"><path d="M-7.300 -3L0 -10.300L7.300 -3"/><path d="M-7.300 3L0 10.300L7.300 3"/></g>
<g fill="#d2d2d2"><path d="M-14 0L-10.800 -3.200L-7.600 0L-10.800 3.200Z"/><path d="M14 0L10.800 -3.200L7.600 0L10.800 3.200Z"/><path d="M0 -3.300L3.300 0L0 3.300L-3.300 0Z"/></g>
</g>
<text x="2207.600" y="1062.300" font-size="24.500px" fill="#d2d2d2" textLength="122.500" lengthAdjust="spacingAndGlyphs">@ mem973</text>

</svg>
</body>
</html>
